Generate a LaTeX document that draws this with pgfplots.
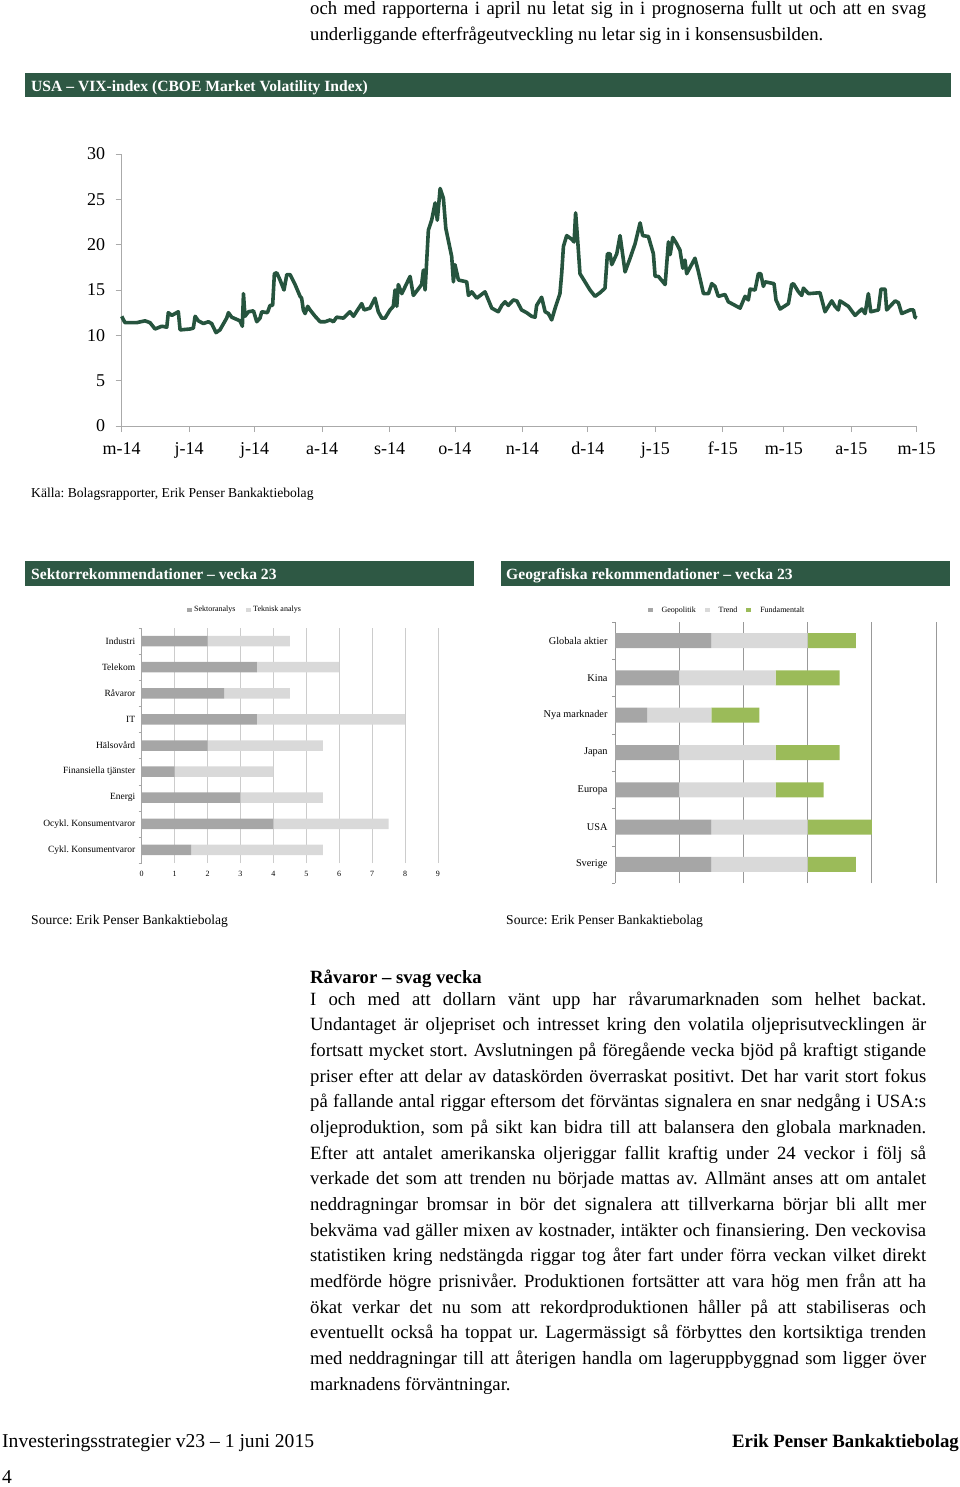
\documentclass[border=0pt]{standalone}
\usepackage{pgfplots}
\pgfplotsset{compat=1.18}
\usepackage{fontspec}
\setmainfont{Liberation Serif}
\frenchspacing
\definecolor{hdr}{RGB}{46,88,68}
\definecolor{vix}{RGB}{38,84,62}
\definecolor{dgray}{RGB}{166,166,166}
\definecolor{lgray}{RGB}{217,217,217}
\definecolor{ggreen}{RGB}{155,187,89}
\definecolor{axgray}{RGB}{170,170,170}
\newcommand\bodyfont{\fontsize{18.7}{22}\selectfont}
\newcommand\jline[2]{\node[anchor=base west,inner sep=0pt] at (310,-#1) {\bodyfont\makebox[616pt][s]{#2}};}
\begin{document}
\begin{tikzpicture}[x=1pt,y=1pt]
\path[use as bounding box] (0,0) rectangle (960,-1487);
% top text
\jline{15}{och med rapporterna i april nu letat sig in i prognoserna fullt ut och att en svag}
\node[anchor=base west,inner sep=0pt] at (310,-40.7) {\bodyfont underliggande efterfrågeutveckling nu letar sig in i konsensusbilden.};
% VIX header
\fill[hdr] (25,-73) rectangle (951,-97.5);
\node[anchor=base west,inner sep=0pt,text=white] at (31,-91.5) {\fontsize{15.6}{18}\selectfont\bfseries USA – VIX-index (CBOE Market Volatility Index)};
\begin{axis}[
  at={(121.7pt,-426pt)}, anchor=south west,
  scale only axis, width=795pt, height=272pt,
  xmin=0, xmax=365, ymin=0, ymax=30,
  axis x line*=bottom, axis y line*=left,
  axis line style={draw=axgray, line width=0.8pt, -},
  xtick={0,31,61,92,123,153,184,214,245,276,304,335,365},
  xticklabels={m-14,j-14,j-14,a-14,s-14,o-14,n-14,d-14,j-15,f-15,m-15,a-15,m-15},
  ytick={0,5,...,30},
  tick align=outside, major tick length=6pt,
  tick style={axgray, line width=0.8pt},
  ticklabel style={font=\fontsize{18}{18}\selectfont, text=black},
  xticklabel style={yshift=-6pt, text height=12.5pt, text depth=4pt},
  yticklabel style={xshift=-7pt},
  /pgf/number format/assume math mode=true,
  clip=false,
]
\addplot[vix, line width=3.6pt, line join=round] coordinates {
(0,12.1) (1.5,11.4) (6.9,11.4) (10.7,11.6) (13.0,11.4) (15.3,10.7) (18.4,11.0) (20.7,10.9) (21.4,12.5) (23.0,12.2) (26.0,12.6) (26.8,10.6) (31.4,10.7) (32.9,10.8) (33.7,12.1) (35.2,11.6) (37.5,11.3) (39.8,11.5) (41.3,11.3) (43.3,10.3) (45.1,10.6) (48.2,11.9) (49.0,12.5) (50.5,12.0) (54.3,11.6) (55.4,11.0) (55.9,14.6) (56.6,12.1) (58.2,12.6) (60.5,12.7) (62.0,11.5) (63.5,11.9) (64.3,12.6) (66.9,12.5) (68.1,13.3) (69.3,13.3) (70.1,16.8) (71.2,16.9) (72.7,16.1) (74.5,15.0) (75.8,16.7) (77.3,16.7) (79.6,15.6) (81.9,14.3) (82.6,14.1) (83.4,12.8) (84.2,12.4) (85.4,13.2) (86.5,12.8) (88.8,12.1) (91.1,11.5) (93.4,11.5) (95.7,11.7) (97.2,11.5) (98.7,12.0) (101.8,11.9) (104.8,12.6) (106.4,12.1) (110.2,13.5) (111.3,12.8) (114.0,13.0) (116.3,14.1) (117.8,12.6) (119.4,11.9) (120.9,11.9) (123.2,12.8) (124.7,13.2) (125.5,15.0) (126.3,13.2) (127.0,15.6) (128.6,14.6) (132.4,16.5) (133.9,14.4) (137.7,15.6) (138.5,17.2) (139.3,15.0) (140.8,21.6) (142.3,22.7) (143.9,24.6) (144.9,22.7) (146.2,26.2) (147.7,25.1) (148.8,21.8) (151.5,18.7) (152.3,15.9) (153.0,17.8) (154.6,16.1) (158.4,15.9) (159.2,14.4) (160.7,14.8) (163.0,14.1) (166.8,14.8) (169.9,13.0) (172.9,12.6) (174.5,13.3) (176.0,13.7) (177.5,13.3) (179.8,13.9) (181.4,13.8) (183.6,12.8) (185.9,12.5) (188.2,12.1) (189.8,12.0) (190.5,13.3) (192.8,14.2) (194.4,12.6) (195.9,12.4) (197.4,11.7) (199.0,13.0) (201.2,14.6) (202.0,16.8) (202.8,19.8) (204.3,21.0) (206.6,20.6) (207.7,20.3) (208.4,23.5) (209.4,20.3) (210.4,16.8) (212.7,15.9) (215.0,15.0) (217.3,14.3) (219.6,14.7) (221.9,15.2) (223.0,19.0) (224.2,19.0) (225.0,17.8) (227.3,19.0) (228.8,21.0) (231.1,17.0) (233.4,18.5) (235.7,20.1) (238.0,22.4) (239.2,21.0) (241.8,20.9) (244.1,19.0) (244.9,16.5) (246.4,16.5) (249.5,15.6) (251.0,20.3) (251.8,18.9) (253.0,20.8) (254.8,20.1) (256.3,19.4) (257.6,17.4) (258.6,18.3) (259.4,16.8) (263.2,18.5) (264.8,17.0) (267.1,14.6) (269.4,14.6) (270.9,15.7) (272.4,15.4) (273.9,14.3) (277.0,14.5) (278.5,13.7) (281.6,13.3) (283.9,13.0) (286.2,14.3) (287.7,13.9) (288.5,15.1) (290.8,15.0) (292.3,16.8) (293.4,16.8) (294.6,15.4) (295.4,15.9) (299.5,15.7) (300.4,13.9) (302.3,12.9) (306.1,13.5) (307.6,15.6) (308.4,15.7) (310.7,14.8) (312.2,14.4) (313.0,15.2) (315.3,14.6) (320.6,14.7) (322.9,12.6) (326.0,13.8) (327.5,13.2) (329.0,12.8) (329.8,13.8) (333.6,13.2) (336.7,12.2) (339.8,12.9) (341.3,12.4) (342.8,14.6) (343.9,12.6) (347.4,12.8) (348.6,15.1) (350.5,15.1) (351.2,12.8) (355.1,13.8) (356.6,13.6) (358.1,12.4) (362.0,12.8) (363.5,12.8) (364.2,12.0) (365.0,11.9)
};
\end{axis}
\node[anchor=base west,inner sep=0pt] at (31,-497) {\fontsize{13.6}{16}\selectfont Källa: Bolagsrapporter, Erik Penser Bankaktiebolag};
% two headers
\fill[hdr] (25,-561) rectangle (474,-585.5);
\fill[hdr] (501,-561) rectangle (950,-585.5);
\node[anchor=base west,inner sep=0pt,text=white] at (31,-579) {\fontsize{15.6}{18}\selectfont\bfseries Sektorrekommendationer – vecka 23};
\node[anchor=base west,inner sep=0pt,text=white] at (506,-579) {\fontsize{15.6}{18}\selectfont\bfseries Geografiska rekommendationer – vecka 23};
% sector chart
\begin{axis}[
  at={(141.7pt,-863pt)}, anchor=south west,
  scale only axis, width=296.3pt, height=235pt,
  xbar stacked, bar width=10.5pt,
  xmin=0, xmax=9, ymin=-0.5, ymax=8.5,
  ytick={0,...,8},
  yticklabels={Cykl. Konsumentvaror,Ocykl. Konsumentvaror,Energi,Finansiella tjänster,Hälsovård,IT,Råvaror,Telekom,Industri},
  xtick={0,...,9},
  xmajorgrids, grid style={black!20, line width=0.7pt},
  axis x line*=bottom, axis y line*=left,
  x axis line style={draw=none},
  y axis line style={draw=black!35, line width=0.7pt, -},
  major tick length=0pt,
  minor ytick={-0.5,0.5,...,8.5}, minor tick length=3pt, tick align=outside,
  minor tick style={black!35},
  yticklabel style={font=\fontsize{9.5}{10}\selectfont, xshift=-3pt},
  xticklabel style={font=\fontsize{8}{9}\selectfont, yshift=-5pt},
  /pgf/number format/assume math mode=true,
  legend image code/.code={\fill[#1, draw=none] (0pt,-2.4pt) rectangle (4.8pt,2.4pt);},
  legend style={at={(0.349,1.077)}, anchor=center, draw=none, font=\fontsize{8}{8}\selectfont, legend columns=2, /tikz/every even column/.append style={column sep=9pt}, inner sep=1pt},
]
\addplot[fill=dgray, draw=none] coordinates {(1.5,0) (4,1) (3,2) (1,3) (2,4) (3.5,5) (2.5,6) (3.5,7) (2,8)};
\addplot[fill=lgray, draw=none] coordinates {(4,0) (3.5,1) (2.5,2) (3,3) (3.5,4) (4.5,5) (2,6) (2.5,7) (2.5,8)};
\legend{Sektoranalys, Teknisk analys}
\end{axis}
% geographic chart
\begin{axis}[
  at={(615pt,-883pt)}, anchor=south west,
  scale only axis, width=321pt, height=261pt,
  xbar stacked, bar width=15pt,
  xmin=0, xmax=10, ymin=-0.5, ymax=6.5,
  ytick={0,...,6},
  yticklabels={Sverige,USA,Europa,Japan,Nya marknader,Kina,Globala aktier},
  xtick={2,4,...,10}, xticklabels={},
  xmajorgrids, grid style={black!40, line width=0.7pt},
  axis x line*=bottom, axis y line*=left,
  x axis line style={draw=none},
  y axis line style={draw=black!40, line width=0.7pt, -},
  major tick length=0pt,
  minor ytick={-0.5,0.5,...,6.5}, minor tick length=3pt, tick align=outside,
  minor tick style={black!40},
  yticklabel style={font=\fontsize{10.3}{11}\selectfont, xshift=-4pt},
  legend image code/.code={\fill[#1, draw=none] (0pt,-2.4pt) rectangle (4.8pt,2.4pt);},
  legend style={at={(0.349,1.046)}, anchor=center, draw=none, font=\fontsize{8}{8}\selectfont, legend columns=3, /tikz/every even column/.append style={column sep=7pt}, /tikz/every odd column/.append style={column sep=7pt}, inner sep=1pt},
]
\addplot[fill=dgray, draw=none] coordinates {(3,0) (3,1) (2,2) (2,3) (1,4) (2,5) (3,6)};
\addplot[fill=lgray, draw=none] coordinates {(3,0) (3,1) (3,2) (3,3) (2,4) (3,5) (3,6)};
\addplot[fill=ggreen, draw=none] coordinates {(1.5,0) (2,1) (1.5,2) (2,3) (1.5,4) (2,5) (1.5,6)};
\legend{Geopolitik, Trend, Fundamentalt}
\end{axis}
\node[anchor=base west,inner sep=0pt] at (31,-924) {\fontsize{13.6}{16}\selectfont Source: Erik Penser Bankaktiebolag};
\node[anchor=base west,inner sep=0pt] at (506,-924) {\fontsize{13.6}{16}\selectfont Source: Erik Penser Bankaktiebolag};
% body
\node[anchor=base west,inner sep=0pt] at (310,-983) {\bodyfont\bfseries Råvaror – svag vecka};
\jline{1005}{I och med att dollarn vänt upp har råvarumarknaden som helhet backat.}
\jline{1030.7}{Undantaget är oljepriset och intresset kring den volatila oljeprisutvecklingen är}
\jline{1056.3}{fortsatt mycket stort. Avslutningen på föregående vecka bjöd på kraftigt stigande}
\jline{1082}{priser efter att delar av dataskörden överraskat positivt. Det har varit stort fokus}
\jline{1107.7}{på fallande antal riggar eftersom det förväntas signalera en snar nedgång i USA:s}
\jline{1133.3}{oljeproduktion, som på sikt kan bidra till att balansera den globala marknaden.}
\jline{1159}{Efter att antalet amerikanska oljeriggar fallit kraftig under 24 veckor i följ så}
\jline{1184.7}{verkade det som att trenden nu började mattas av. Allmänt anses att om antalet}
\jline{1210.3}{neddragningar bromsar in bör det signalera att tillverkarna börjar bli allt mer}
\jline{1236}{bekväma vad gäller mixen av kostnader, intäkter och finansiering. Den veckovisa}
\jline{1261.7}{statistiken kring nedstängda riggar tog åter fart under förra veckan vilket direkt}
\jline{1287.3}{medförde högre prisnivåer. Produktionen fortsätter att vara hög men från att ha}
\jline{1313}{ökat verkar det nu som att rekordproduktionen håller på att stabiliseras och}
\jline{1338.7}{eventuellt också ha toppat ur. Lagermässigt så förbyttes den kortsiktiga trenden}
\jline{1364.3}{med neddragningar till att återigen handla om lageruppbyggnad som ligger över}
\node[anchor=base west,inner sep=0pt] at (310,-1390) {\bodyfont marknadens förväntningar.};
% footer
\node[anchor=base west,inner sep=0pt] at (2,-1447.5) {\fontsize{19.6}{22}\selectfont Investeringsstrategier v23 – 1 juni 2015};
\node[anchor=base east,inner sep=0pt] at (959,-1447) {\fontsize{18.8}{22}\selectfont\bfseries Erik Penser Bankaktiebolag};
\node[anchor=base west,inner sep=0pt] at (2,-1483) {\fontsize{19.6}{22}\selectfont 4};
\end{tikzpicture}
\end{document}
